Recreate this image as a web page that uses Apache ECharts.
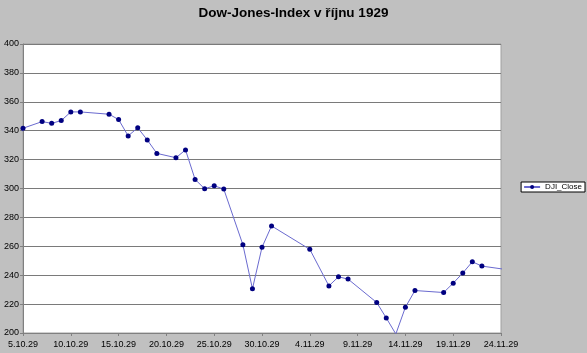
<!DOCTYPE html>
<html>
<head>
<meta charset="utf-8">
<script src="https://cdn.jsdelivr.net/npm/echarts@6/dist/echarts.min.js"></script>
<style>
  html, body { margin: 0; padding: 0; background: #c0c0c0; }
  #echart { width: 587px; height: 353px; }
</style>
</head>
<body>
<div id="echart"></div>
<script>
// dny obchodovani (Oct 4 a Nov 25 lezi mimo osu, jen kvuli orezanym useckam)
const dates = [
    '1929-10-04', '1929-10-05', '1929-10-07', '1929-10-08', '1929-10-09', '1929-10-10',
    '1929-10-11', '1929-10-14', '1929-10-15', '1929-10-16', '1929-10-17', '1929-10-18',
    '1929-10-19', '1929-10-21', '1929-10-22', '1929-10-23', '1929-10-24', '1929-10-25',
    '1929-10-26', '1929-10-28', '1929-10-29', '1929-10-30', '1929-10-31', '1929-11-04',
    '1929-11-06', '1929-11-07', '1929-11-08', '1929-11-11', '1929-11-12', '1929-11-13',
    '1929-11-14', '1929-11-15', '1929-11-18', '1929-11-19', '1929-11-20', '1929-11-21',
    '1929-11-22', '1929-11-25'
];
const closeValues = [
    325.2, 341.7, 346.3, 345.1, 347.0, 353.0,
    353.0, 351.4, 347.7, 336.4, 342.0, 333.6,
    324.3, 321.3, 326.7, 306.3, 299.8, 301.9,
    299.6, 261.1, 230.6, 259.3, 274.1, 257.9,
    232.6, 238.9, 237.3, 221.1, 210.4, 199.3,
    217.8, 229.4, 228.0, 234.5, 241.5, 249.3,
    246.3, 243.5
];
const xTickLabels = [
    '5.10.29', '10.10.29', '15.10.29', '20.10.29', '25.10.29', '30.10.29',
    '4.11.29', '9.11.29', '14.11.29', '19.11.29', '24.11.29'
];

const DAY = 86400000;
const start = Date.UTC(1929, 9, 5);
function dayOffset(s) {
    const p = s.split('-');
    return Math.round((Date.UTC(+p[0], +p[1] - 1, +p[2]) - start) / DAY);
}
const seriesData = dates.map((d, i) => [dayOffset(d), closeValues[i]]);

const font = 'Arial, "Liberation Sans", sans-serif';
const chart = echarts.init(document.getElementById('echart'));

const option = {
    animation: false,
    backgroundColor: '#c0c0c0',
    title: {
        text: 'Dow-Jones-Index v říjnu 1929',
        left: 'center',
        top: 1,
        textStyle: { fontFamily: font, fontSize: 13.5, fontWeight: 'bold', color: '#000' }
    },
    legend: {
        right: 2,
        top: 182,
        orient: 'vertical',
        backgroundColor: '#fff',
        borderColor: '#000',
        borderWidth: 1,
        borderRadius: 0,
        padding: [1, 3, 1, 2],
        itemWidth: 16,
        itemHeight: 5,
        itemGap: 0,
        textStyle: { fontFamily: font, fontSize: 8, color: '#000' },
        data: ['DJI_Close']
    },
    grid: {
        left: 23,
        right: 86,
        top: 44,
        bottom: 20,
        show: true,
        backgroundColor: '#fff',
        borderColor: '#a0a0a0',
        borderWidth: 1
    },
    xAxis: {
        type: 'value',
        min: 0,
        max: 50,
        interval: 5,
        axisLine: { show: true, lineStyle: { color: '#808080', width: 1 } },
        axisTick: { show: true, length: 3, lineStyle: { color: '#808080' } },
        splitLine: { show: false },
        axisLabel: {
            fontFamily: font,
            fontSize: 9,
            color: '#000',
            margin: 7,
            formatter: v => xTickLabels[Math.round(v / 5)] || ''
        }
    },
    yAxis: {
        type: 'value',
        min: 200,
        max: 400,
        interval: 20,
        axisLine: { show: true, lineStyle: { color: '#808080', width: 1 } },
        axisTick: { show: true, length: 3, lineStyle: { color: '#808080' } },
        splitLine: { show: true, lineStyle: { color: '#7a7a7a', width: 1 } },
        axisLabel: { fontFamily: font, fontSize: 9, color: '#000', margin: 4 }
    },
    series: [{
        name: 'DJI_Close',
        type: 'line',
        data: seriesData,
        clip: true,
        symbol: 'circle',
        symbolSize: 5,
        showSymbol: true,
        itemStyle: { color: '#000080' },
        lineStyle: { color: '#6a6acf', width: 1 }
    }]
};

chart.setOption(option);
</script>
</body>
</html>
